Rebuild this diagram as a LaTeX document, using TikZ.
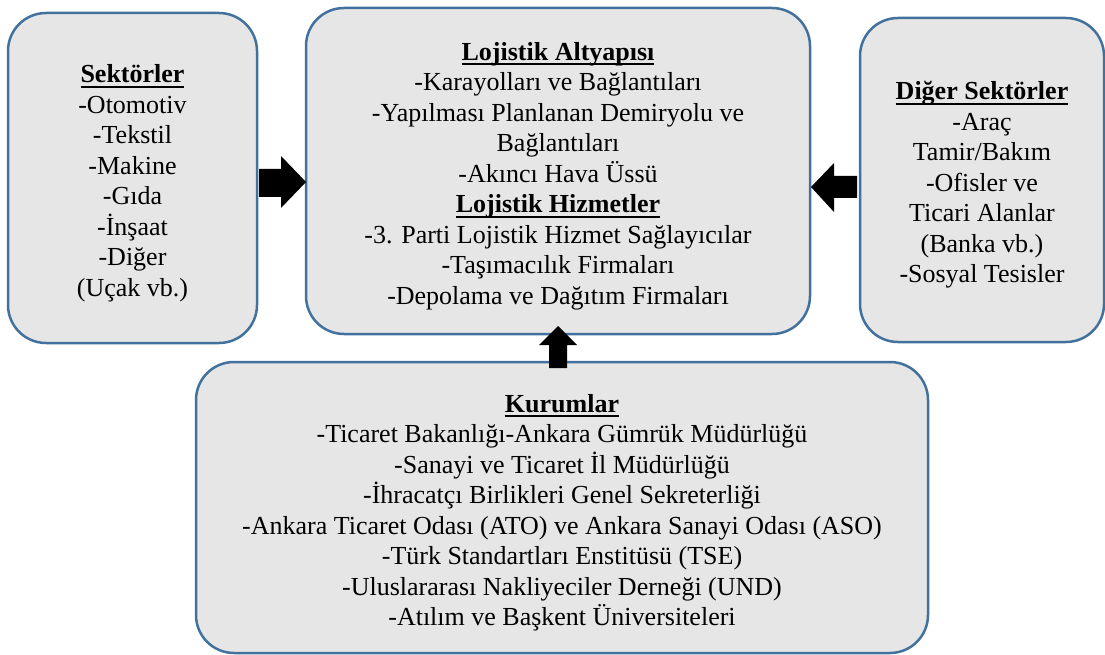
\documentclass[tikz,border=0pt]{standalone}
\usepackage{fontspec}
\setmainfont{Liberation Serif}
\definecolor{boxfill}{HTML}{E7E6E6}
\definecolor{boxline}{HTML}{41719C}
\newsavebox{\titbox}
\newcommand{\titul}[1]{\sbox{\titbox}{\textbf{#1}}\rlap{\rule[-5pt]{\wd\titbox}{2pt}}\usebox{\titbox}}
\tikzset{
  panel/.style={draw=boxline, fill=boxfill, line width=2.5pt, rounded corners=38pt, inner sep=0pt},
  paneltext/.style={align=center, inner sep=0pt, yshift=-5pt, font=\fontsize{26}{30.5}\selectfont},
  blockarrow/.style={fill=black, draw=none}
}
\begin{document}
\begin{tikzpicture}[x=1pt,y=-1pt]
\useasboundingbox (0,0) rectangle (1105,655);
\node[panel, minimum width=249, minimum height=330] (sek) at (132.5,178) {};
\node[panel, minimum width=504, minimum height=326] (lojistik) at (558,171) {};
\node[panel, minimum width=244, minimum height=324] (diger) at (982,180) {};
\node[panel, minimum width=732, minimum height=291] (kurum) at (562,507.5) {};
\node[paneltext] (sektxt) at (sek.center)
  {\titul{Sektörler}\\-Otomotiv\\-Tekstil\\-Makine\\-Gıda\\-İnşaat\\-Diğer\\(Uçak vb.)};
\node[paneltext] (lojtxt) at (lojistik.center)
  {\titul{Lojistik Altyapısı}\\-Karayolları ve Bağlantıları\\-Yapılması Planlanan Demiryolu ve\\Bağlantıları\\-Akıncı Hava Üssü\\\titul{Lojistik Hizmetler}\\-3. Parti Lojistik Hizmet Sağlayıcılar\\-Taşımacılık Firmaları\\-Depolama ve Dağıtım Firmaları};
\node[paneltext] (digtxt) at (diger.center)
  {\titul{Diğer Sektörler}\\-Araç\\Tamir/Bakım\\-Ofisler ve\\Ticari Alanlar\\(Banka vb.)\\-Sosyal Tesisler};
\node[paneltext] (kurtxt) at (kurum.center)
  {\titul{Kurumlar}\\-Ticaret Bakanlığı-Ankara Gümrük Müdürlüğü\\-Sanayi ve Ticaret İl Müdürlüğü\\-İhracatçı Birlikleri Genel Sekreterliği\\-Ankara Ticaret Odası (ATO) ve Ankara Sanayi Odası (ASO)\\-Türk Standartları Enstitüsü (TSE)\\-Uluslararası Nakliyeciler Derneği (UND)\\-Atılım ve Başkent Üniversiteleri};
% block arrows
\fill[blockarrow] (259,169) -- (281,169) -- (281,156) -- (306,182) -- (281,208) -- (281,197) -- (259,197) -- cycle;
\fill[blockarrow] (857,176) -- (834,176) -- (834,163) -- (811,187) -- (834,212) -- (834,198) -- (857,198) -- cycle;
\fill[blockarrow] (549,368) -- (549,345) -- (539,345) -- (558,326) -- (577,345) -- (567,345) -- (567,368) -- cycle;
\end{tikzpicture}
\end{document}
